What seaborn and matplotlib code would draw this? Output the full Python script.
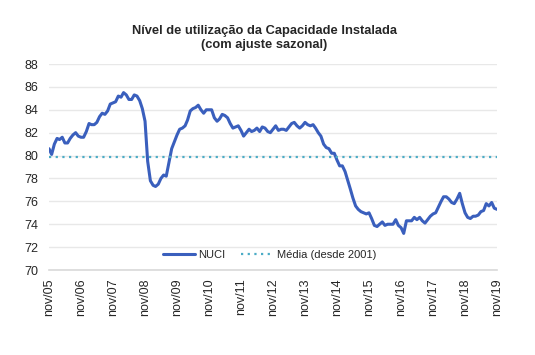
import pandas as pd
import numpy as np
import seaborn as sns
import matplotlib
import matplotlib.pyplot as plt
import matplotlib.dates as mdates

matplotlib.use('Agg')
sns.set_style("white")
plt.rcParams['font.family'] = ['Liberation Sans', 'DejaVu Sans']

# -------------------------------Dados (mensal, nov/05 a nov/19)
nuci = [
    80.6, 80.1, 81.0, 81.5, 81.4, 81.6, 81.1, 81.1, 81.5, 81.8, 82.0, 81.7,
    81.6, 81.6, 82.1, 82.8, 82.7, 82.7, 82.9, 83.4, 83.7, 83.6, 83.9, 84.5,
    84.6, 84.7, 85.2, 85.1, 85.5, 85.3, 84.9, 84.9, 85.3, 85.2, 84.8, 84.1,
    83.0, 79.5, 77.8, 77.4, 77.3, 77.5, 78.0, 78.3, 78.2, 79.4, 80.6, 81.2,
    81.8, 82.3, 82.4, 82.6, 83.1, 83.9, 84.1, 84.2, 84.4, 84.0, 83.7, 84.0,
    84.0, 84.0, 83.3, 83.0, 83.2, 83.6, 83.5, 83.3, 82.8, 82.4, 82.5, 82.6,
    82.2, 81.7, 82.0, 82.3, 82.1, 82.2, 82.4, 82.1, 82.5, 82.4, 82.1, 82.0,
    82.3, 82.6, 82.2, 82.3, 82.3, 82.2, 82.5, 82.8, 82.9, 82.6, 82.4, 82.6,
    82.9, 82.7, 82.6, 82.7, 82.4, 82.0, 81.7, 81.0, 80.7, 80.6, 80.2, 80.2,
    79.6, 79.1, 79.1, 78.6, 77.9, 77.1, 76.3, 75.6, 75.3, 75.1, 75.0, 74.9,
    75.0, 74.5, 73.9, 73.8, 74.0, 74.2, 73.9, 74.0, 74.0, 74.0, 74.4, 73.9,
    73.7, 73.2, 74.3, 74.3, 74.3, 74.6, 74.4, 74.6, 74.3, 74.1, 74.4, 74.7,
    74.9, 75.0, 75.5, 76.0, 76.4, 76.4, 76.2, 75.9, 75.8, 76.2, 76.7, 75.8,
    75.0, 74.6, 74.5, 74.7, 74.7, 74.8, 75.1, 75.2, 75.8, 75.6, 75.9, 75.4, 75.3,
]
media_desde_2001 = 79.9
y_ticks = [70, 72, 74, 76, 78, 80, 82, 84, 86, 88]

datas = pd.date_range('2005-11-01', periods=len(nuci), freq='MS')
df = pd.DataFrame({'Data': datas, 'NUCI': nuci})
df['Média (desde 2001)'] = media_desde_2001

cor_nuci = '#3a5fbd'
cor_media = '#4bacc6'

fig = plt.figure(figsize=(5.35, 3.55), dpi=100)
ax = fig.add_axes([0.0916, 0.2394, 0.8374, 0.5803])

sns.lineplot(data=df, x='Data', y='NUCI', ax=ax, color=cor_nuci, linewidth=2.2, label='NUCI')
sns.lineplot(data=df, x='Data', y='Média (desde 2001)', ax=ax, color=cor_media,
             linewidth=1.6, linestyle=(0, (1, 2)), label='Média (desde 2001)')

# Eixos
ax.set_ylim(70, 88)
ax.set_yticks(y_ticks)
ax.set_xlim(datas[0], datas[-1])
ax.xaxis.set_major_locator(mdates.MonthLocator(bymonth=[11]))
ax.xaxis.set_major_formatter(mdates.DateFormatter('nov/%y'))
ax.tick_params(axis='x', rotation=90, labelsize=9, length=0, pad=6)
ax.tick_params(axis='y', labelsize=9, length=0, pad=8)
ax.set_xlabel('')
ax.set_ylabel('')

ax.yaxis.grid(True, color='#e8e8e8', linewidth=1)
ax.xaxis.grid(False)
for lado in ['top', 'right', 'left']:
    ax.spines[lado].set_visible(False)
ax.spines['bottom'].set_color('#d9d9d9')
ax.spines['bottom'].set_linewidth(1.2)

ax.legend(loc='center', bbox_to_anchor=(0.5037, 0.2817), bbox_transform=fig.transFigure,
          ncol=2, frameon=False, fontsize=8, handlelength=2.9, columnspacing=1.4,
          handletextpad=0.3)

fig.text(0.4935, 0.893, 'Nível de utilização da Capacidade Instalada\n(com ajuste sazonal)',
         ha='center', va='center', fontsize=9.3, fontweight='bold', linespacing=1.3)

plt.savefig('out.png', dpi=100)
